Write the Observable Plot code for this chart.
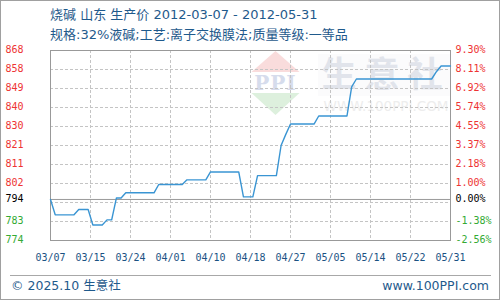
<!DOCTYPE html>
<html><head><meta charset="utf-8">
<script src="https://cdn.jsdelivr.net/npm/d3@7"></script>
<script src="https://cdn.jsdelivr.net/npm/@observablehq/plot@0.6"></script>
<style>
body{margin:0;background:#fff;}
#wrap{position:relative;width:500px;height:300px;overflow:hidden;background:#fff;font-family:"DejaVu Sans","Noto Sans CJK SC",sans-serif;}
.t{position:absolute;white-space:nowrap;color:#1f5a8c;}
#border{position:absolute;left:0;top:0;width:498px;height:298px;border:1px solid #a0a0a0;z-index:3;}
#wm{position:absolute;left:0;top:0;width:500px;height:300px;z-index:0;}
#chart{position:absolute;left:0;top:40px;z-index:1;}
#rule{position:absolute;left:10px;top:275px;width:481px;height:1px;background:#a8a8a8;}
</style></head>
<body>
<div id="wrap">
  <div id="wm">
    <svg width="500" height="300" style="position:absolute;left:0;top:0">
      <polygon points="275.5,51 251.5,72 299.5,72" fill="#f9dcdc"/>
      <text x="275.5" y="90" text-anchor="middle" font-family="DejaVu Serif" font-weight="bold" font-size="20" fill="#d6dcec" letter-spacing="1">PPI</text>
      <polygon points="251.5,93 299.5,93 275.5,115" fill="#ddf0dd"/>
      <rect x="318" y="54" width="132" height="42" fill="#fbfbfc"/>
      <text x="386" y="87" text-anchor="middle" font-family="Noto Sans CJK SC" font-weight="bold" font-size="35" fill="#e1e4eb" letter-spacing="8">生意社</text>
      <text x="386" y="111" text-anchor="middle" font-family="DejaVu Sans" font-size="13.5" fill="#ededed">WWW.100PPI.COM</text>
    </svg>
  </div>
  <div class="t" style="left:50px;top:6px;font-size:13px;line-height:17px;">烧碱 山东 生产价 2012-03-07 - 2012-05-31</div>
  <div class="t" style="left:50px;top:26px;font-size:13px;line-height:17px;">规格:32%液碱;工艺:离子交换膜法;质量等级:一等品</div>
  <div id="chart"></div>
  <div id="rule"></div>
  <div class="t" style="left:11px;top:278px;font-size:12.5px;line-height:16px;">© 2025.10 生意社</div>
  <div class="t" style="right:11px;top:278px;font-size:12.5px;line-height:16px;">www.100PPI.com</div>
  <div id="border"></div>
</div>
<script>
// ---- data ----
const priceDates = ["2012-03-07","2012-03-08","2012-03-12","2012-03-13","2012-03-15","2012-03-16","2012-03-18","2012-03-19","2012-03-20","2012-03-21","2012-03-22","2012-03-23","2012-03-29","2012-03-30","2012-04-04","2012-04-05","2012-04-09","2012-04-10","2012-04-16","2012-04-17","2012-04-19","2012-04-20","2012-04-24","2012-04-25","2012-04-26","2012-04-27","2012-05-02","2012-05-03","2012-05-09","2012-05-10","2012-05-11","2012-05-27","2012-05-28","2012-05-29","2012-05-31"];
const priceValues = [794.3,786.7,786.7,789.3,789.3,781.7,781.7,784.2,784.2,795.0,795.0,797.6,797.6,801.7,801.7,804.0,804.0,807.9,807.9,795.6,795.6,806.1,806.1,821.0,826.5,831.6,831.6,835.6,835.6,850.0,853.9,853.9,857.5,860.3,860.3];
const baseValue = 794.3;
const yDomain = [774, 868];
const yGridValues = [774, 783.4, 792.8, 802.2, 811.6, 821, 830.4, 839.8, 849.2, 858.6, 868];
const yLabelValues = [868, 858.6, 849.2, 839.8, 830.4, 821, 811.6, 802.2, 794.3, 783.4, 774];
const yLabels = ["868","858","849","840","830","821","811","802","794","783","774"];
const pctLabels = ["9.30%","8.11%","6.92%","5.74%","4.55%","3.37%","2.18%","1.00%","0.00%","-1.38%","-2.56%"];
const xTickDates = ["2012-03-07T00:00Z","2012-03-15T12:00Z","2012-03-24T00:00Z","2012-04-01T12:00Z","2012-04-10T00:00Z","2012-04-18T12:00Z","2012-04-27T00:00Z","2012-05-05T12:00Z","2012-05-14T00:00Z","2012-05-22T12:00Z","2012-05-31T00:00Z"];
const xTickLabels = ["03/07","03/15","03/24","04/01","04/10","04/18","04/27","05/05","05/14","05/22","05/31"];

// ---- build ----
const data = priceDates.map((d, i) => ({date: new Date(d + "T00:00Z"), value: priceValues[i]}));
const ticks = xTickDates.map(d => new Date(d));
const labelIdx = d3.range(yLabels.length);
const colorOf = v => Math.abs(v - baseValue) < 0.01 ? "#000000" : (v > baseValue ? "#ee3333" : "#33aa33");
const mono = "DejaVu Sans Mono, monospace";

const chart = Plot.plot({
  width: 500, height: 230,
  marginLeft: 50, marginRight: 50, marginTop: 10, marginBottom: 30,
  style: {background: "transparent", overflow: "visible"},
  x: {type: "utc", domain: [ticks[0], ticks[ticks.length - 1]], axis: null},
  y: {domain: yDomain, axis: null},
  color: {type: "identity"},
  marks: [
    Plot.ruleY(yGridValues.slice(1, -1), {stroke: "#c4c4c4", strokeDasharray: "3,2"}),
    Plot.ruleX(ticks.slice(1, -1), {stroke: "#c4c4c4", strokeDasharray: "3,2"}),
    Plot.ruleY([baseValue], {stroke: "#999999"}),
    Plot.frame({stroke: "#999999"}),
    Plot.line(data, {x: "date", y: "value", stroke: "#3a95d3", strokeWidth: 1.4}),
    Plot.text(labelIdx, {y: i => yLabelValues[i], text: i => yLabels[i], fill: i => colorOf(yLabelValues[i]),
      frameAnchor: "left", dx: -45, dy: -1, textAnchor: "start", fontFamily: mono, fontSize: 10}),
    Plot.text(labelIdx, {y: i => yLabelValues[i], text: i => pctLabels[i], fill: i => colorOf(yLabelValues[i]),
      frameAnchor: "right", dx: 5, dy: -1, textAnchor: "start", fontFamily: mono, fontSize: 10}),
    Plot.text(ticks, {x: d => d, text: (d, i) => xTickLabels[i], frameAnchor: "bottom", lineAnchor: "middle",
      dy: 17, fill: "#1b5283", fontFamily: mono, fontSize: 10})
  ]
});
document.getElementById("chart").appendChild(chart);
</script>
</body></html>
